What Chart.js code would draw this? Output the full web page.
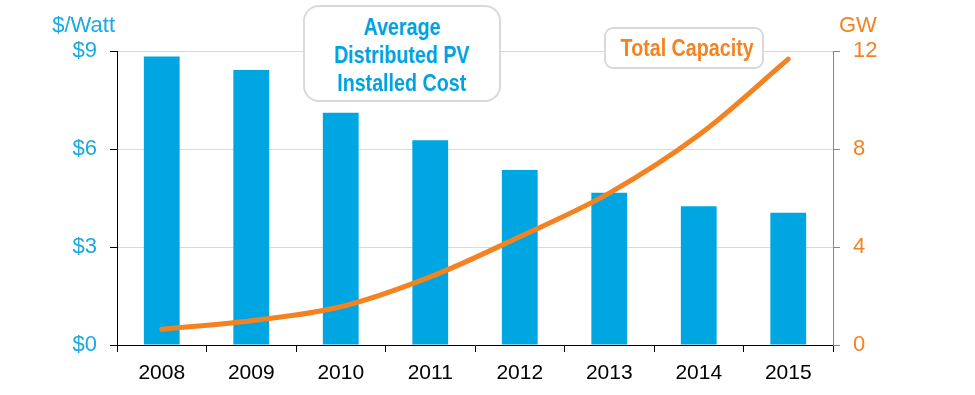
<!DOCTYPE html>
<html>
<head>
<meta charset="utf-8">
<script src="https://cdn.jsdelivr.net/npm/chart.js@4"></script>
<style>
  body { margin: 0; background: #fff; }
  #wrap { position: relative; width: 975px; height: 395px; font-family: 'Liberation Sans', Arial, sans-serif; }
  .unit { position: absolute; top: 12px; font-size: 22px; line-height: 26px; }
  .box {
    position: absolute; background: #fff; border: 2px solid #d9d9d9;
    font-weight: bold; font-size: 24px; text-align: center; box-sizing: border-box;
    white-space: nowrap;
  }
  .box span { display: inline-block; transform: scaleX(0.82); transform-origin: center; }
</style>
</head>
<body>
<div id="wrap">
  <canvas id="myChart" width="975" height="395"></canvas>
  <div class="unit" style="right: 860px; color: #1aa9e3;">$/Watt</div>
  <div class="unit" style="left: 839px; color: #f58220;">GW</div>
  <div class="box" style="left: 303px; top: 5px; width: 198px; height: 97px; border-radius: 16px; color: #00a3e0; line-height: 28px; padding-top: 6px;"><span>Average</span><br><span>Distributed PV</span><br><span>Installed Cost</span></div>
  <div class="box" style="left: 604px; top: 27px; width: 160px; height: 42px; border-radius: 9px; color: #f58220; line-height: 38px;"><span>Total Capacity</span></div>
</div>
<script>
const years = ['2008', '2009', '2010', '2011', '2012', '2013', '2014', '2015'];
const costPerWatt = [8.83, 8.42, 7.11, 6.27, 5.36, 4.66, 4.25, 4.05];
const capacityGW = [0.64, 0.99, 1.56, 2.78, 4.42, 6.2, 8.57, 11.67];
const costTicks = [0, 3, 6, 9];
const gwTicks = [0, 4, 8, 12];

const blue = '#00a6e2';
const orange = '#f58220';

Chart.defaults.font.family = "'Liberation Sans', Arial, sans-serif";

new Chart(document.getElementById('myChart').getContext('2d'), {
	data: {
		labels: years,
		datasets: [
			{
				type: 'line',
				data: capacityGW,
				yAxisID: 'yGW',
				borderColor: orange,
				borderWidth: 5,
				borderCapStyle: 'round',
				tension: 0.35,
				pointRadius: 0,
				order: 0
			},
			{
				type: 'bar',
				data: costPerWatt,
				yAxisID: 'yCost',
				backgroundColor: blue,
				categoryPercentage: 1,
				barPercentage: 0.4,
				order: 1
			}
		]
	},
	options: {
		responsive: false,
		animation: false,
		layout: { padding: { top: 51, left: 0, right: 0, bottom: 0 } },
		plugins: { legend: { display: false }, tooltip: { enabled: false } },
		scales: {
			x: {
				offset: true,
				grid: { offset: true, drawOnChartArea: false, tickLength: 7, tickColor: '#000' },
				border: { color: '#000' },
				ticks: { color: '#000', font: { size: 21 }, padding: 9 },
				afterFit: (s) => { s.height = 50; }
			},
			yCost: {
				position: 'left',
				min: 0,
				max: 9,
				afterBuildTicks: (s) => { s.ticks = costTicks.map((v) => ({ value: v })); },
				grid: { color: '#d9d9d9', tickColor: '#000', tickLength: 7 },
				border: { color: '#000' },
				ticks: { color: '#1aa9e3', font: { size: 22 }, padding: 13, callback: (v) => '$' + v },
				afterFit: (s) => { s.width = 117; }
			},
			yGW: {
				position: 'right',
				min: 0,
				max: 12,
				afterBuildTicks: (s) => { s.ticks = gwTicks.map((v) => ({ value: v })); },
				grid: { drawOnChartArea: false, tickColor: '#888', tickLength: 7 },
				border: { color: '#888' },
				ticks: { color: orange, font: { size: 22 }, padding: 13 },
				afterFit: (s) => { s.width = 142; }
			}
		}
	}
});
</script>
</body>
</html>
